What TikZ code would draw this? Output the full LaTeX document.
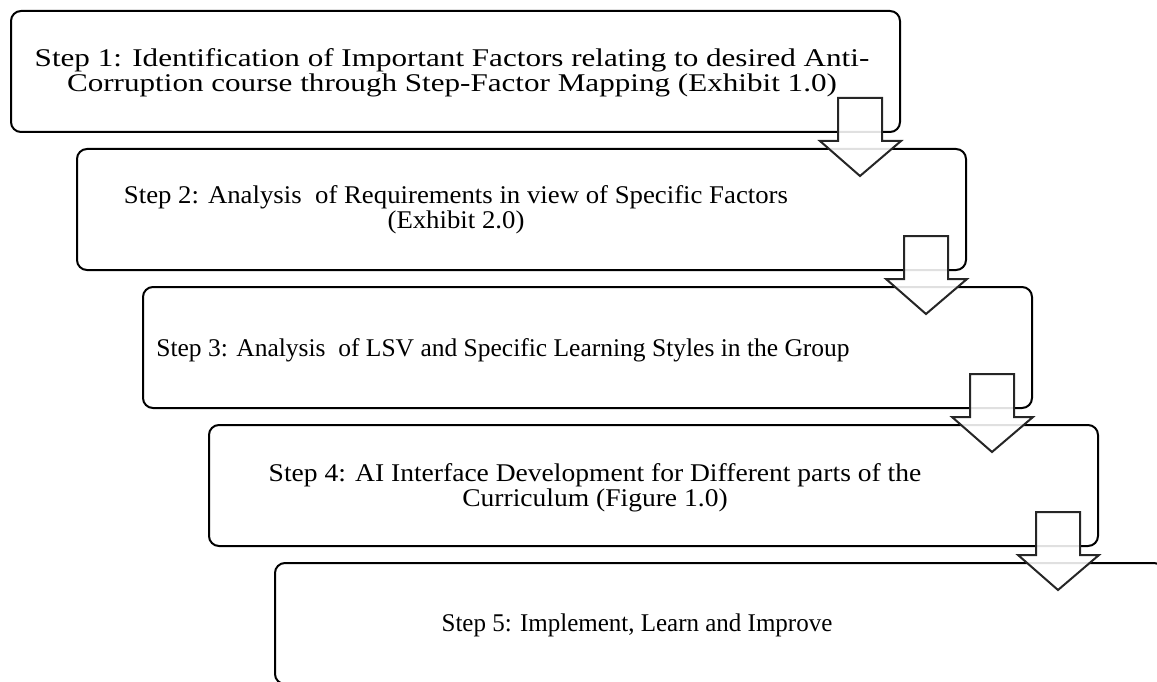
\documentclass[tikz,border=0pt]{standalone}
\usepackage{fontspec}
\setmainfont{Liberation Serif}
\usepackage{tikz}
\usetikzlibrary{calc}

\tikzset{
  stepbox/.style={draw, line width=2pt, rounded corners=10pt, outer sep=0pt,
    minimum width=889pt, minimum height=121pt},
  steptext/.style={align=center, inner sep=0pt},
  wide/.style={font=\fontsize{25.5}{25}\selectfont\addfontfeatures{FakeStretch=#1}},
  blockarrow/.style={draw=black!85, line width=2pt, line join=miter, fill=white, fill opacity=0.88}
}

\begin{document}
\begin{tikzpicture}[x=1pt, y=-1pt, font=\fontsize{25.5}{25}\selectfont]
  \useasboundingbox (0,0) rectangle (1157,682);
  \clip (0,0) rectangle (1157,682);
  % the five step boxes
  \foreach \i in {1,...,5} {
    \node[stepbox] (s\i) at ({455.5+66*(\i-1)}, {71.5+138*(\i-1)}) {};
  }
  \node[steptext, wide=1.22] (t1) at (452, 73) {Step 1: Identification of Important Factors relating to desired Anti-\\Corruption course through Step-Factor Mapping (Exhibit 1.0)};
  \node[steptext, wide=1.05] (t2) at (456, 210) {Step 2: Analysis \ of Requirements in view of Specific Factors\\(Exhibit 2.0)};
  \node[steptext, anchor=base] (t3) at (503, 356) {Step 3: Analysis \ of LSV and Specific Learning Styles in the Group};
  \node[steptext, wide=1.08] (t4) at (595, 487.5) {Step 4: AI Interface Development for Different parts of the\\Curriculum (Figure 1.0)};
  \node[steptext, wide=0.98, anchor=base] (t5) at (637, 631) {Step 5: Implement, Learn and Improve};
  % block arrows between the steps
  \foreach \i in {1,...,4} {
    \draw[blockarrow] ($(s\i.south east)+(-62,-34)$) -- ++(44,0) -- ++(0,43) -- ++(19,0)
      -- ++(-41,35) -- ++(-40,-35) -- ++(18,0) -- cycle;
  }
\end{tikzpicture}
\end{document}
